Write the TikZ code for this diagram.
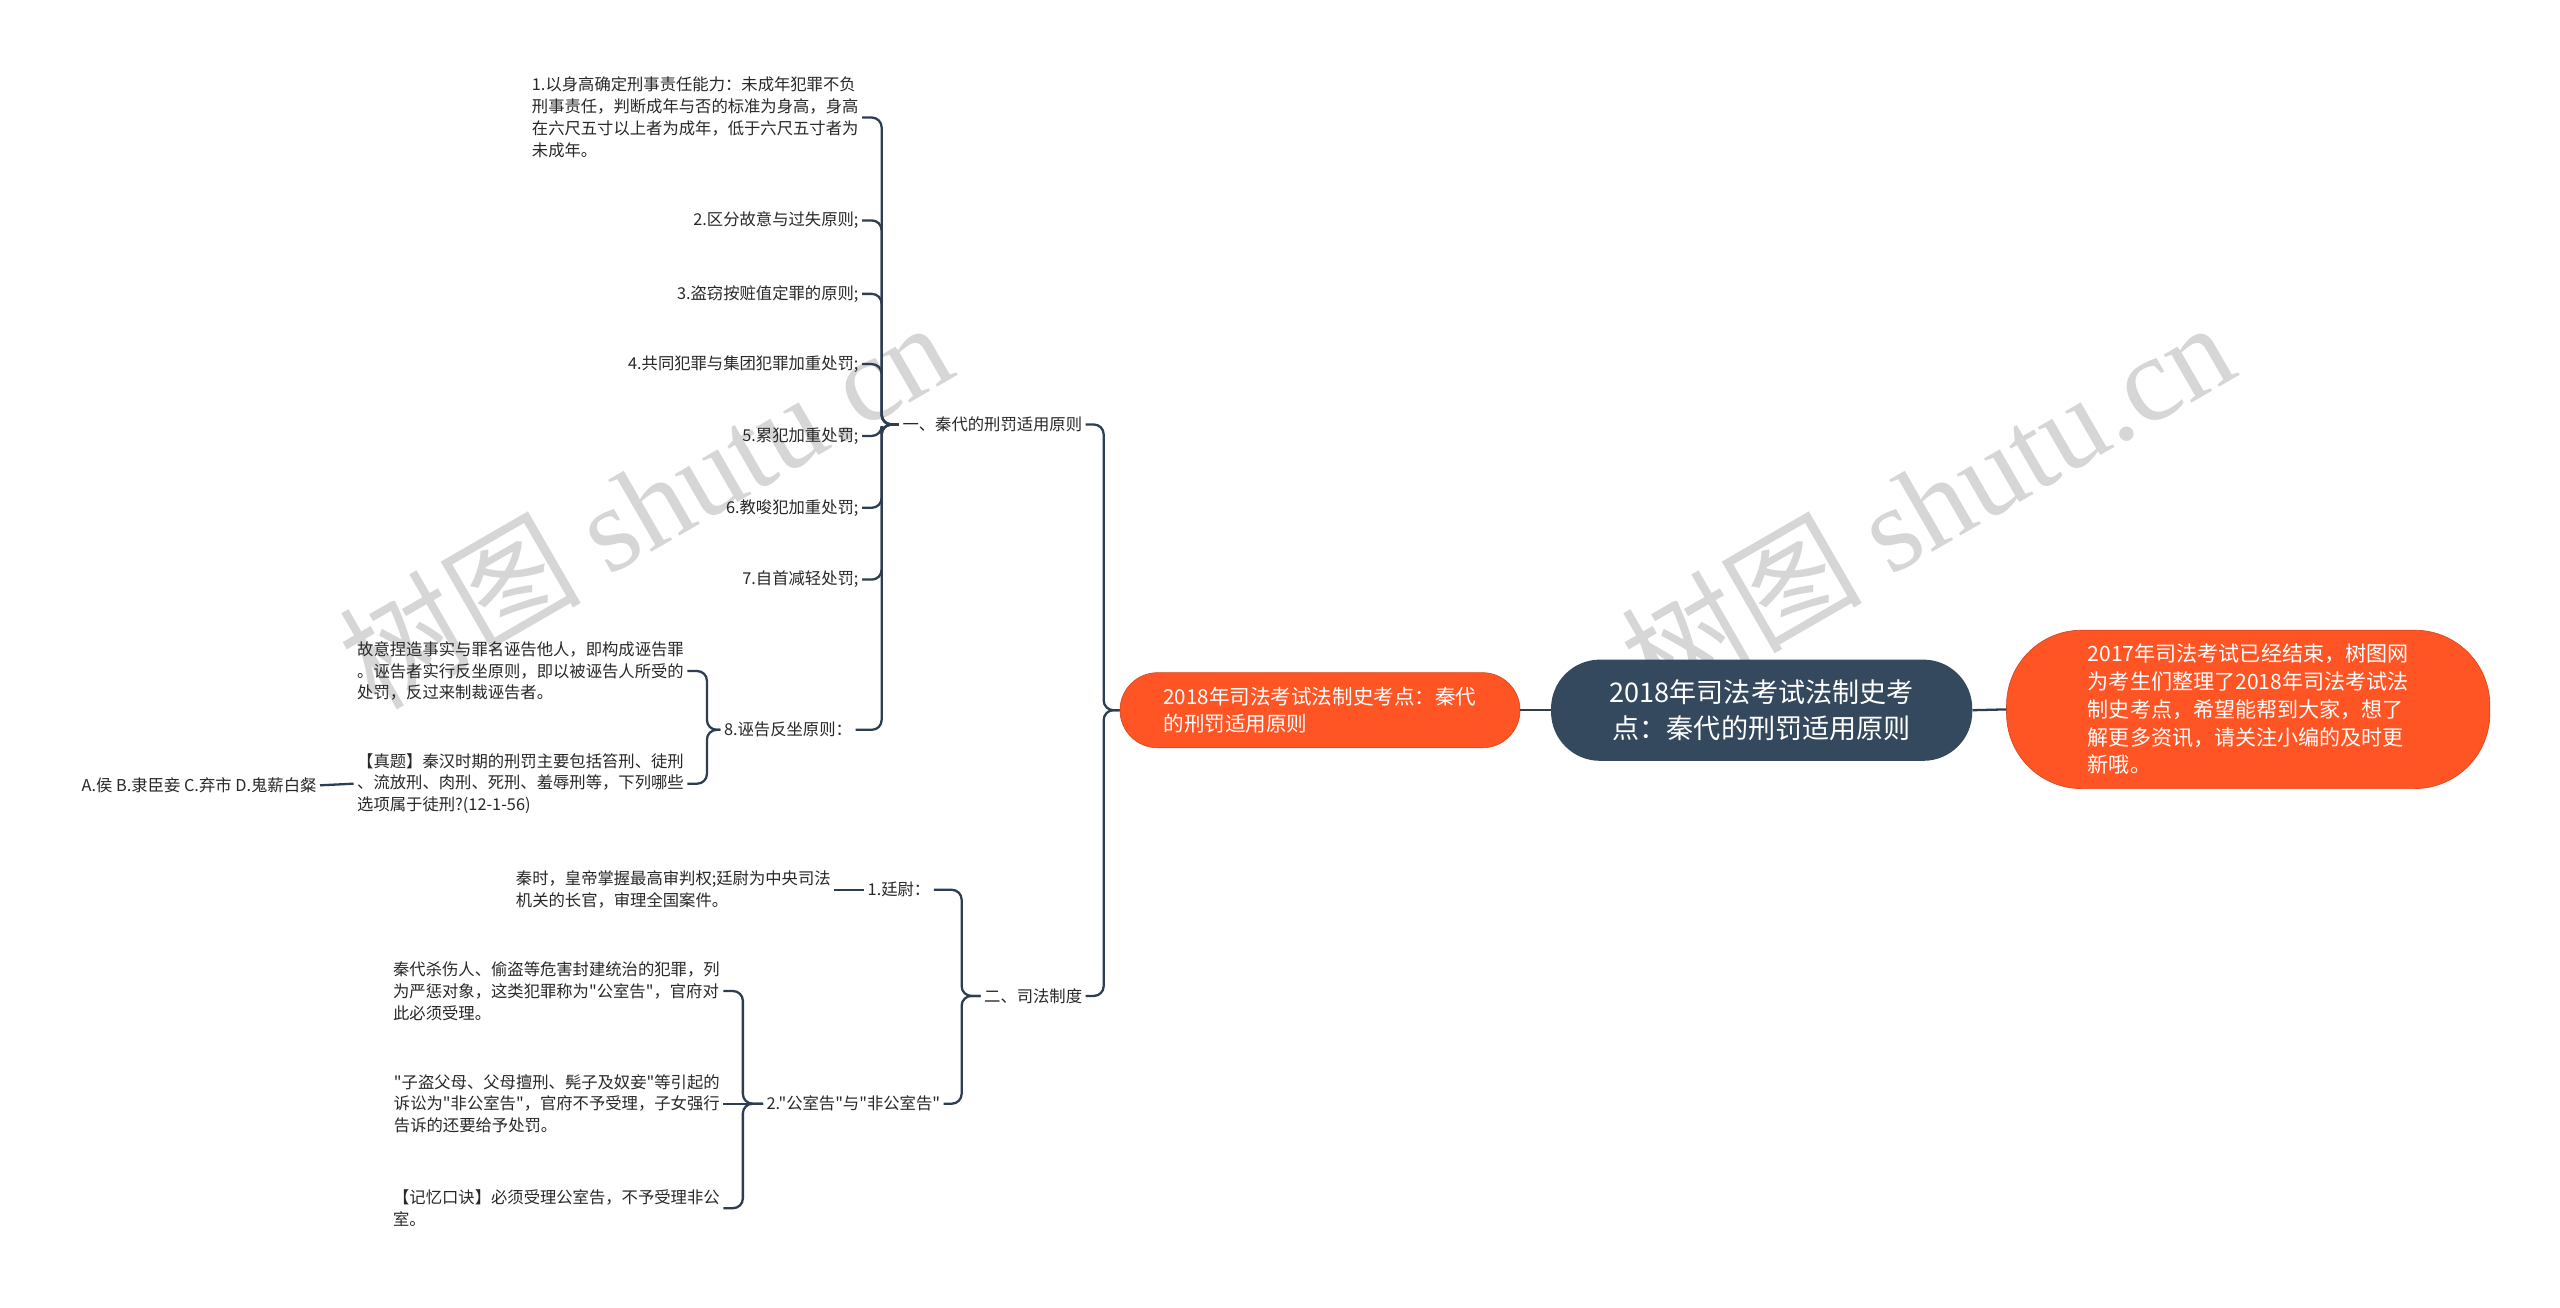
\documentclass[tikz,border=0pt]{standalone}
\usepackage{fontspec}
\setmainfont{Noto Sans CJK SC}
\newfontfamily\cjk{Noto Sans CJK SC}
\newfontfamily\wmserif{Liberation Serif}
\definecolor{linec}{RGB}{44,62,80}
\definecolor{rootc}{RGB}{52,73,94}
\definecolor{orangec}{RGB}{255,84,36}
\definecolor{txtc}{RGB}{40,40,40}
\definecolor{wmc}{RGB}{214,214,214}
\tikzset{
  conn/.style={draw=linec, line width=1.4pt, rounded corners=6pt},
  lbl/.style={font=\cjk\fontsize{10}{13.4}\selectfont, text=txtc, inner sep=2pt, align=left},
  rootbox/.style={fill=rootc, text=white, rounded corners=30pt, minimum width=258pt, minimum height=62pt, align=center, font=\cjk\fontsize{16.6}{22}\selectfont, inner sep=0pt},
  orangebox/.style={fill=orangec, draw=orangec!85!black, line width=0.4pt, text=white, align=left, inner sep=0pt},
  wm/.style={text=wmc, rotate=30, inner sep=0pt}
}
\begin{document}
\begin{tikzpicture}[x=1pt,y=-1pt]
\fill[white] (0,0) rectangle (1568,801);
\useasboundingbox (0,0) rectangle (1568,801);

% watermarks
\node[wm] (wm1) at (395,308) {\cjk\fontsize{74}{74}\selectfont 树图 {\wmserif shutu.cn}};
\node[wm] (wm2) at (1180,308) {\cjk\fontsize{74}{74}\selectfont 树图 {\wmserif shutu.cn}};

% central nodes
\node[rootbox] (root) at (1079,435) {2018年司法考试法制史考\\点：秦代的刑罚适用原则};
\node[orangebox, rounded corners=46pt, minimum width=296pt, minimum height=97pt, font=\cjk\fontsize{12.9}{17}\selectfont] (intro) at (1377,434.5)
  {2017年司法考试已经结束，树图网\\为考生们整理了2018年司法考试法\\制史考点，希望能帮到大家，想了\\解更多资讯，请关注小编的及时更\\新哦。};
\node[orangebox, rounded corners=23pt, minimum width=245pt, minimum height=46pt, font=\cjk\fontsize{12.6}{17}\selectfont] (topic) at (808.5,435)
  {2018年司法考试法制史考点：秦代\\的刑罚适用原则};

\draw[conn] (root.east) -- (intro.west);
\draw[conn] (root.west) -- (topic.east);

% level 1
\node[lbl, anchor=east] (la) at (665,260) {一、秦代的刑罚适用原则};
\node[lbl, anchor=east] (lb) at (665,610) {二、司法制度};
\draw[conn] (topic.west) -- (676,435) |- (la.east);
\draw[conn] (topic.west) -- (676,435) |- (lb.east);

% group 1
\node[lbl, anchor=east] (c1) at (528,72) {1.以身高确定刑事责任能力：未成年犯罪不负\\刑事责任，判断成年与否的标准为身高，身高\\在六尺五寸以上者为成年，低于六尺五寸者为\\未成年。};
\node[lbl, anchor=east] (c2) at (528,135) {2.区分故意与过失原则;};
\node[lbl, anchor=east] (c3) at (528,180) {3.盗窃按赃值定罪的原则;};
\node[lbl, anchor=east] (c4) at (528,223) {4.共同犯罪与集团犯罪加重处罚;};
\node[lbl, anchor=east] (c5) at (528,267) {5.累犯加重处罚;};
\node[lbl, anchor=east] (c6) at (528,311) {6.教唆犯加重处罚;};
\node[lbl, anchor=east] (c7) at (528,355) {7.自首减轻处罚;};
\node[lbl, anchor=east] (c8) at (524,447) {8.诬告反坐原则：};
\foreach \c in {c1,c2,c3,c4,c5,c6,c7,c8}
  \draw[conn] (la.west) -- (540,260) |- (\c.east);

% group 8
\node[lbl, anchor=east] (d1) at (421,411) {故意捏造事实与罪名诬告他人，即构成诬告罪\\。诬告者实行反坐原则，即以被诬告人所受的\\处罚，反过来制裁诬告者。};
\node[lbl, anchor=east] (d2) at (421,480) {【真题】秦汉时期的刑罚主要包括笞刑、徒刑\\、流放刑、肉刑、死刑、羞辱刑等，下列哪些\\选项属于徒刑?(12-1-56)};
\draw[conn] (c8.west) -- (433,447) |- (d1.east);
\draw[conn] (c8.west) -- (433,447) |- (d2.east);
\node[lbl, anchor=east] (e1) at (196,481) {A.侯 B.隶臣妾 C.弃市 D.鬼薪白粲};
\draw[conn] (d2.west) -- (e1.east);

% group 2
\node[lbl, anchor=east] (f1) at (572,545) {1.廷尉：};
\node[lbl, anchor=east] (f2) at (578,676) {2."公室告"与"非公室告"};
\draw[conn] (lb.west) -- (589,610) |- (f1.east);
\draw[conn] (lb.west) -- (589,610) |- (f2.east);
\node[lbl, anchor=east] (g1) at (511,545) {秦时，皇帝掌握最高审判权;廷尉为中央司法\\机关的长官，审理全国案件。};
\draw[conn] (f1.west) -- (g1.east);

\node[lbl, anchor=east] (h1) at (443,607) {秦代杀伤人、偷盗等危害封建统治的犯罪，列\\为严惩对象，这类犯罪称为"公室告"，官府对\\此必须受理。};
\node[lbl, anchor=east] (h2) at (443,676) {"子盗父母、父母擅刑、髡子及奴妾"等引起的\\诉讼为"非公室告"，官府不予受理，子女强行\\告诉的还要给予处罚。};
\node[lbl, anchor=east] (h3) at (443,740) {【记忆口诀】必须受理公室告，不予受理非公\\室。};
\draw[conn] (f2.west) -- (455,676) |- (h1.east);
\draw[conn] (f2.west) -- (455,676) -- (h2.east);
\draw[conn] (f2.west) -- (455,676) |- (h3.east);
\end{tikzpicture}
\end{document}
